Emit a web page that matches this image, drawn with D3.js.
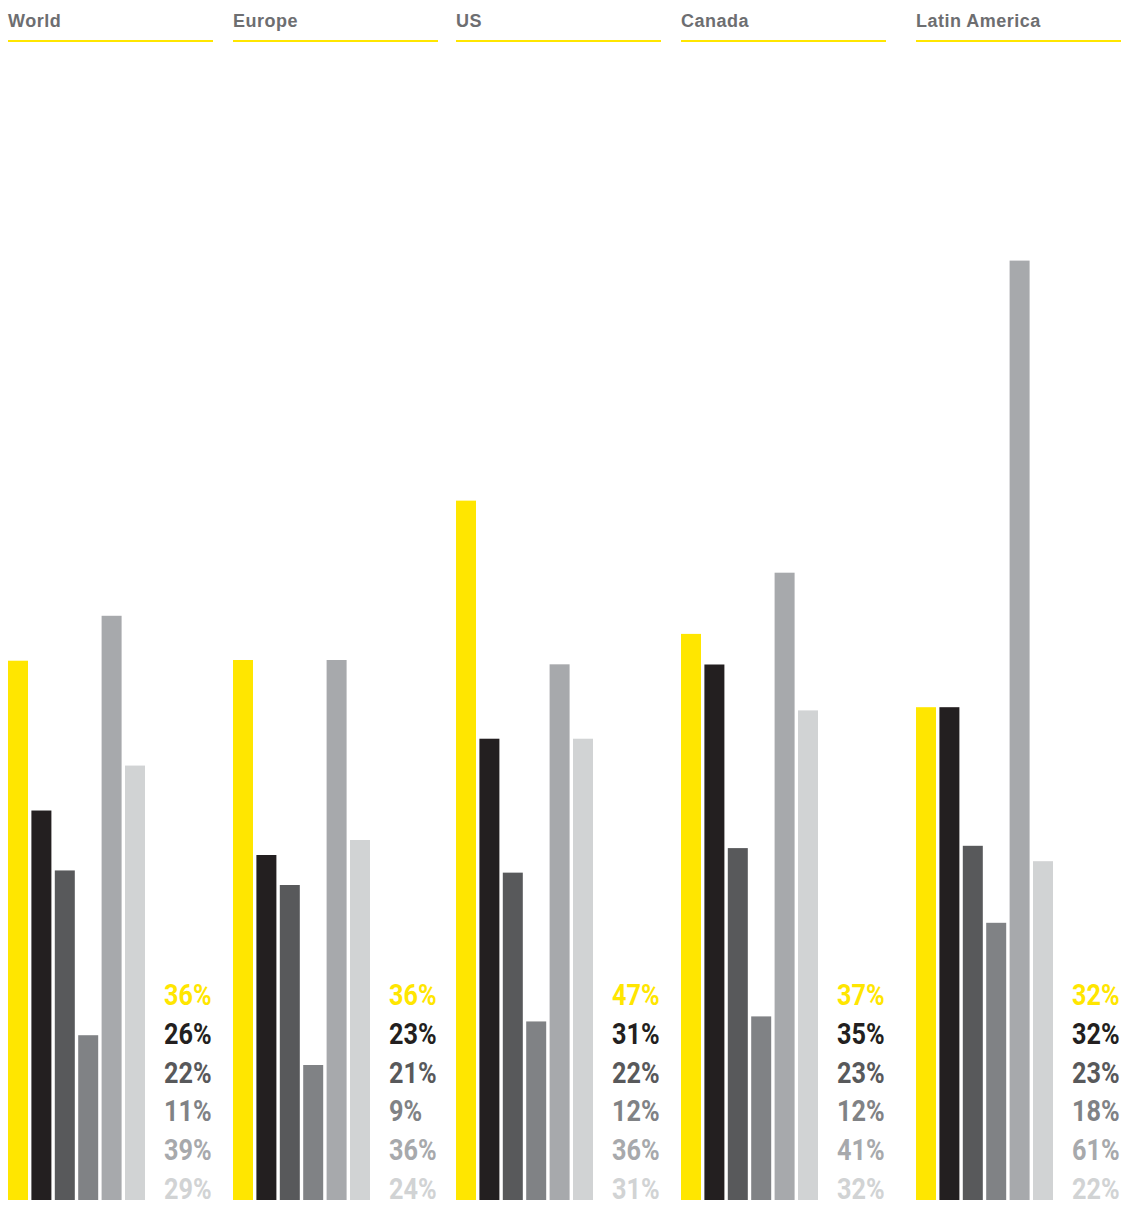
<!DOCTYPE html>
<html>
<head>
<meta charset="utf-8">
<script src="https://cdn.jsdelivr.net/npm/d3@7"></script>
<style>
  html, body { margin: 0; padding: 0; background: #ffffff; }
  svg { display: block; }
</style>
</head>
<body>
<svg id="chart" width="1129" height="1218"></svg>
<script>
// ---- data ----
const regions = ["World", "Europe", "US", "Canada", "Latin America"];
const world = [36, 26, 22, 11, 39, 29];
const europe = [36, 23, 21, 9, 36, 24];
const us = [47, 31, 22, 12, 36, 31];
const canada = [37, 35, 23, 12, 41, 32];
const latinAmerica = [32, 32, 23, 18, 61, 22];
const seriesColors = ["#ffe600", "#231f20", "#58595b", "#808285", "#a7a9ac", "#d1d3d4"];

const values = [world, europe, us, canada, latinAmerica];

// ---- layout ----
const panelX = [8, 233, 456, 681, 916];
const pxPerPct = [14.98, 15.0, 14.88, 15.3, 15.4];
const svg = d3.select("#chart");

const x = d3.scaleBand().domain(d3.range(6)).range([0, 137]).paddingInner(0.1453).paddingOuter(0);

regions.forEach((name, i) => {
  const y = d3.scaleLinear().domain([0, 100]).range([1200, 1200 - 100 * pxPerPct[i]]);
  const g = svg.append("g").attr("transform", `translate(${panelX[i]},0)`);

  g.append("text")
    .attr("x", 0).attr("y", 27)
    .attr("font-family", "'Liberation Sans', Arial, sans-serif")
    .attr("font-weight", "bold")
    .attr("font-size", 18)
    .attr("letter-spacing", 0.5)
    .attr("fill", "#6d6e71")
    .text(name);

  g.append("rect")
    .attr("x", 0).attr("y", 40)
    .attr("width", 205).attr("height", 2)
    .attr("fill", "#ffe600");

  g.selectAll("rect.bar")
    .data(values[i])
    .join("rect")
    .attr("class", "bar")
    .attr("x", (d, j) => x(j))
    .attr("width", x.bandwidth())
    .attr("y", d => y(d))
    .attr("height", d => y(0) - y(d))
    .attr("fill", (d, j) => seriesColors[j]);

  g.selectAll("text.val")
    .data(values[i])
    .join("text")
    .attr("class", "val")
    .attr("transform", (d, j) => `translate(156,${1005 + j * 38.8}) scale(0.87,1)`)
    .attr("font-family", "Roboto, 'Liberation Sans', sans-serif")
    .attr("font-weight", "bold")
    .attr("font-size", 29)
    .attr("fill", (d, j) => seriesColors[j])
    .text(d => d + "%");
});
</script>
</body>
</html>
